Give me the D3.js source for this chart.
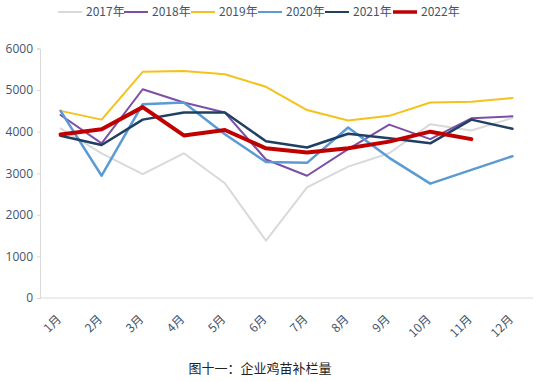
<!DOCTYPE html>
<html><head><meta charset="utf-8">
<script src="https://cdn.jsdelivr.net/npm/d3@7"></script>
<style>body{margin:0;background:#fff;font-family:"Noto Sans CJK SC","Noto Sans",sans-serif;}</style>
</head><body><svg id="c" width="540" height="382"></svg>
<script>
const months = ["1月","2月","3月","4月","5月","6月","7月","8月","9月","10月","11月","12月"];
const yTicks = [0,1000,2000,3000,4000,5000,6000];
const seriesNames = ["2017年","2018年","2019年","2020年","2021年","2022年"];
const seriesColors = ["#d9d9d9","#7b4fa6","#f4c21b","#5b9bd5","#1f3f63","#c00000"];
const seriesWidths = [2,2,2,2.5,2.5,4];
const v2017 = [4080,3480,2980,3480,2760,1380,2660,3160,3480,4180,4030,4330];
const v2018 = [4400,3720,5020,4700,4460,3330,2940,3580,4170,3820,4320,4370];
const v2019 = [4500,4290,5440,5460,5380,5080,4520,4270,4380,4700,4720,4810];
const v2020 = [4500,2940,4660,4700,3940,3270,3250,4100,3370,2750,3080,3410];
const v2021 = [3900,3680,4290,4460,4460,3770,3620,3950,3840,3720,4290,4070];
const v2022 = [3930,4060,4590,3910,4040,3600,3500,3600,3760,4000,3820];
const allSeries = [v2017,v2018,v2019,v2020,v2021,v2022];
const title = "图十一：企业鸡苗补栏量";

const svg = d3.select("#c");
const x = d3.scalePoint().domain(months).range([40,533]).padding(0.5);
const y = d3.scaleLinear().domain([0,6000]).range([298,48.5]);
const txtColor = "#44546a";

// y axis
const ya = svg.append("g").attr("transform","translate(40,0)")
  .call(d3.axisLeft(y).tickValues(yTicks).tickSize(3).tickPadding(4).tickFormat(d3.format("d")));
ya.select(".domain").attr("stroke","#d9d9d9");
ya.selectAll(".tick line").attr("stroke","#d9d9d9");
ya.selectAll("text").attr("fill",txtColor).style("font-size","12px").style("font-family","'Open Sans','Noto Sans',sans-serif");

// x axis
const xa = svg.append("g").attr("transform","translate(0,298)")
  .call(d3.axisBottom(x).tickSize(0).tickSizeOuter(0));
xa.select(".domain").attr("stroke","#d9d9d9").attr("d","M40,0H533");
xa.selectAll("text").attr("fill",txtColor).style("font-size","12px")
  .style("font-family","'Noto Sans CJK SC',sans-serif")
  .attr("text-anchor","end").attr("x",0).attr("y",0).attr("dy","0.35em")
  .attr("transform","translate(-2,19) rotate(-45)");

// lines
const line = d3.line().x((d,i)=>x(months[i])).y(d=>y(d));
allSeries.forEach((s,k)=>{
  svg.append("path").datum(s).attr("d",line).attr("fill","none")
    .attr("stroke",seriesColors[k]).attr("stroke-width",seriesWidths[k])
    .attr("stroke-linejoin","round").attr("stroke-linecap","round");
});

// legend
const legX = [58,124,191,258,325,393];
seriesNames.forEach((n,k)=>{
  const g = svg.append("g").attr("transform",`translate(${legX[k]},12)`);
  g.append("line").attr("x1",0).attr("x2",24).attr("y1",0).attr("y2",0)
    .attr("stroke",seriesColors[k]).attr("stroke-width",k===5?3.5:2);
  g.append("text").attr("x",28).attr("y",0).attr("dy","0.35em").text(n)
    .attr("fill",txtColor).style("font-size","12px").style("font-family","'Noto Sans CJK SC',sans-serif");
});

svg.append("text").attr("x",260).attr("y",373).attr("text-anchor","middle").text(title)
  .attr("fill","#222").style("font-size","13px").style("font-family","'Noto Sans CJK SC',sans-serif");
</script></body></html>
